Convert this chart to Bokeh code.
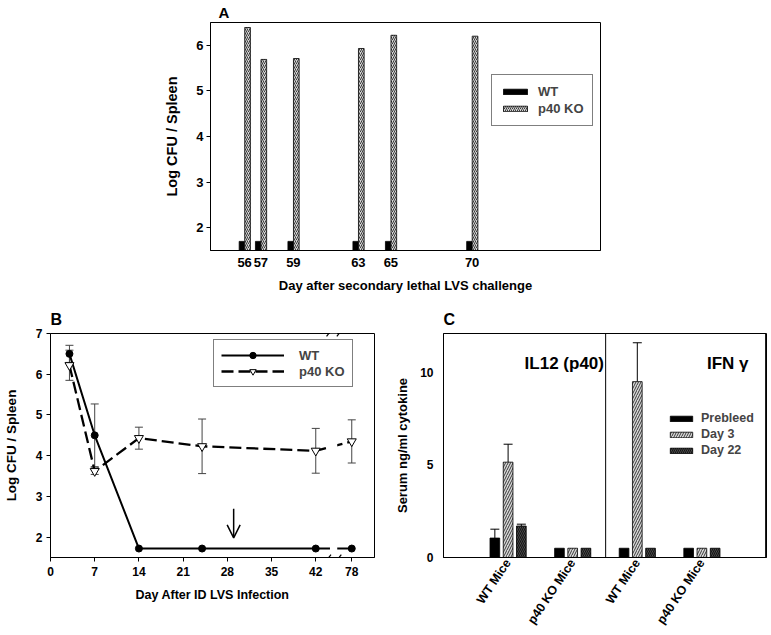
import math
from bokeh.plotting import figure
from bokeh.layouts import column, row
from bokeh.models import (ColumnDataSource, FixedTicker, Legend, LegendItem, Label,
                          Arrow, OpenHead, Whisker, TeeHead, Span)
from bokeh.transform import dodge
from bokeh.embed import file_html
from bokeh.resources import INLINE

FONT = "Liberation Sans"

# ---------------- Panel A data ----------------
a_days = [56, 57, 59, 63, 65, 70]
a_wt = [1.7, 1.7, 1.7, 1.7, 1.7, 1.7]
a_p40 = [6.39, 5.69, 5.71, 5.93, 6.22, 6.20]
a_yticks = [2, 3, 4, 5, 6]

# ---------------- Panel B data ----------------
b_days = [3, 7, 14, 24, 42, 78]
b_wt = [6.5, 4.5, 1.72, 1.72, 1.72, 1.72]
b_wt_err = [0.21, 0.77, 0, 0, 0, 0]
b_p40 = [6.22, 3.62, 4.43, 4.23, 4.12, 4.35]
b_p40_err = [0.37, 0.08, 0.27, 0.67, 0.55, 0.53]
b_xticks = [0, 7, 14, 21, 28, 35, 42, 78]
b_yticks = [2, 3, 4, 5, 6, 7]
b_arrow_day = 29

# ---------------- Panel C data ----------------
c_groups = ["WT Mice", "p40 KO Mice", "WT Mice", "p40 KO Mice"]
c_panels = ["IL12 (p40)", "IFN γ"]
c_series = ["Prebleed", "Day 3", "Day 22"]
c_prebleed = [1.05, 0.5, 0.5, 0.5]
c_day3 = [5.15, 0.5, 9.5, 0.5]
c_day22 = [1.7, 0.5, 0.5, 0.5]
c_prebleed_err = [0.48, 0, 0, 0]
c_day3_err = [0.97, 0, 2.1, 0]
c_day22_err = [0.1, 0, 0, 0]
c_yticks = [0, 5, 10]


def base_fig(title, title_size, title_offset, title_standoff, **kw):
    p = figure(output_backend="svg", toolbar_location=None,
               background_fill_color="white", border_fill_color="white",
               outline_line_color="black", outline_line_width=1, **kw)
    p.title.text = title
    p.title.text_font = FONT
    p.title.text_font_style = "bold"
    p.title.text_font_size = title_size
    p.title.text_color = "black"
    p.title.align = "left"
    p.title.offset = title_offset
    p.title.standoff = title_standoff
    p.grid.visible = False
    for ax in p.axis:
        ax.major_label_text_font = FONT
        ax.major_label_text_font_style = "bold"
        ax.major_label_text_color = "black"
        ax.axis_label_text_font = FONT
        ax.axis_label_text_font_style = "bold"
        ax.axis_label_text_color = "black"
        ax.axis_line_color = "black"
        ax.major_tick_line_color = "black"
        ax.minor_tick_line_color = None
        ax.major_tick_in = 0
    return p


# ================= Panel A =================
pA = base_fig("A", "15px", 8, 3,
              frame_width=390, frame_height=228, x_range=(53.9, 77.9), y_range=(1.5, 6.5),
              min_border_left=210, min_border_right=160, min_border_top=22, min_border_bottom=50)
srcA = ColumnDataSource(dict(day=a_days, wt=a_wt, p40=a_p40))
rA_wt = pA.vbar(x=dodge("day", -0.17, range=pA.x_range), top="wt", bottom=1.5, width=0.33,
                fill_color="black", line_color="black", line_width=0.8, source=srcA)
rA_p40 = pA.vbar(x=dodge("day", 0.18, range=pA.x_range), top="p40", bottom=1.5, width=0.35,
                 fill_color="#d4d4d4", hatch_pattern="/", hatch_color="#3a3a3a",
                 hatch_scale=4, hatch_weight=1, line_color="black", line_width=0.8, source=srcA)
pA.xaxis.ticker = FixedTicker(ticks=a_days)
pA.yaxis.ticker = FixedTicker(ticks=a_yticks)
pA.xaxis.major_tick_out = 0
pA.xaxis.major_label_standoff = 7
pA.xaxis.major_label_text_font_size = "13px"
pA.yaxis.major_label_text_font_size = "13px"
pA.yaxis.major_tick_out = 4
pA.yaxis.major_label_standoff = 3
pA.xaxis.axis_label = "Day after secondary lethal LVS challenge"
pA.xaxis.axis_label_text_font_size = "13px"
pA.xaxis.axis_label_standoff = 8
pA.yaxis.axis_label = "Log CFU / Spleen"
pA.yaxis.axis_label_text_font_size = "14.5px"
pA.yaxis.axis_label_standoff = 13
legA = Legend(items=[LegendItem(label="WT", renderers=[rA_wt]),
                     LegendItem(label="p40 KO", renderers=[rA_p40])],
              location=(281, 124), border_line_color="black", border_line_width=1,
              background_fill_color="white", padding=8, spacing=0, margin=0,
              label_height=17, glyph_height=7, glyph_width=30, label_standoff=8,
              label_text_font=FONT, label_text_font_style="bold", label_text_font_size="13px")
pA.add_layout(legA)

# ================= Panel B =================
B_BREAK_POS = 47.7
b_pos = [d if d <= 42 else B_BREAK_POS for d in b_days]
srcB = ColumnDataSource(dict(x=b_pos, wt=b_wt, p40=b_p40))
pB = base_fig("B", "16px", 0, 11,
              width=392, height=333, x_range=(0, 51.3), y_range=(1.5, 7.0),
              min_border_left=50, min_border_right=18, min_border_top=33, min_border_bottom=71)

wt_err_rows = [i for i, e in enumerate(b_wt_err) if e > 0]
srcBwe = ColumnDataSource(dict(x=[b_pos[i] for i in wt_err_rows],
                               lo=[b_wt[i] - b_wt_err[i] for i in wt_err_rows],
                               hi=[b_wt[i] + b_wt_err[i] for i in wt_err_rows]))
srcBpe = ColumnDataSource(dict(x=b_pos,
                               lo=[v - e for v, e in zip(b_p40, b_p40_err)],
                               hi=[v + e for v, e in zip(b_p40, b_p40_err)]))
for s in (srcBwe, srcBpe):
    pB.add_layout(Whisker(source=s, base="x", lower="lo", upper="hi", line_color="#444444",
                          line_width=1, level="underlay",
                          upper_head=TeeHead(size=8, line_color="#444444", line_width=1),
                          lower_head=TeeHead(size=8, line_color="#444444", line_width=1)))

lB_wt = pB.line("x", "wt", source=srcB, line_color="black", line_width=2)
lB_p40 = pB.line("x", "p40", source=srcB, line_color="black", line_width=2.3, line_dash="12 5")
# axis break gap
pB.quad(left=44.25, right=45.4, bottom=1.5, top=7.0, fill_color="white", line_color=None)
sB_wt = pB.scatter("x", "wt", source=srcB, marker="circle", size=7, fill_color="black",
                   line_color="black")
sB_p40 = pB.scatter("x", "p40", source=srcB, marker="inverted_triangle", size=9,
                    fill_color="white", line_color="black", line_width=1)

pB.xaxis.ticker = FixedTicker(ticks=b_xticks[:-1] + [B_BREAK_POS])
pB.xaxis.major_label_overrides = {B_BREAK_POS: str(b_xticks[-1])}
pB.yaxis.ticker = FixedTicker(ticks=b_yticks)
pB.xaxis.major_tick_out = 4
pB.yaxis.major_tick_out = 4
pB.xaxis.major_label_standoff = 5
pB.yaxis.major_label_standoff = 4
pB.xaxis.major_label_text_font_size = "12px"
pB.yaxis.major_label_text_font_size = "12px"
pB.xaxis.axis_label = "Day After ID LVS Infection"
pB.xaxis.axis_label_text_font_size = "12.5px"
pB.xaxis.axis_label_standoff = 9
pB.yaxis.axis_label = "Log CFU / Spleen"
pB.yaxis.axis_label_text_font_size = "13.5px"
pB.yaxis.axis_label_standoff = 14

legB = Legend(items=[LegendItem(label="WT", renderers=[lB_wt, sB_wt]),
                     LegendItem(label="p40 KO", renderers=[lB_p40, sB_p40])],
              location=(163, 170), border_line_color="black", border_line_width=1,
              background_fill_color="white", padding=7, spacing=0, margin=0,
              label_height=16, glyph_height=16, glyph_width=63, label_standoff=15,
              label_text_font=FONT, label_text_font_style="bold", label_text_font_size="13px")
pB.add_layout(legB)

pB.add_layout(Arrow(x_start=b_arrow_day, y_start=2.7, x_end=b_arrow_day, y_end=1.98,
                    line_color="black", line_width=1.5,
                    end=OpenHead(size=13, line_color="black", line_width=1.5)))
for cx in (44.06, 45.69):
    for cy in (1.5, 7.0):
        pB.add_layout(Arrow(x_start=cx - 0.35, y_start=cy - 0.07, x_end=cx + 0.35,
                            y_end=cy + 0.07, line_color="black", line_width=1.2, end=None))

# ================= Panel C =================
c_x = list(range(1, len(c_groups) + 1))
OFF = 0.205
W = 0.15
C_XMAX = 5.0
srcC = ColumnDataSource(dict(x=c_x, pre=c_prebleed, d3=c_day3, d22=c_day22))
pC = base_fig("C", "16px", 0, 11,
              width=379, height=333, x_range=(0, C_XMAX), y_range=(0, 12.1),
              min_border_left=51, min_border_right=5, min_border_top=33, min_border_bottom=71)
rC_pre = pC.vbar(x=dodge("x", -OFF, range=pC.x_range), top="pre", bottom=0, width=W,
                 fill_color="black", line_color="black", line_width=0.8, source=srcC)
rC_d3 = pC.vbar(x=dodge("x", 0, range=pC.x_range), top="d3", bottom=0, width=W,
                fill_color="#d8d8d8", hatch_pattern="/", hatch_color="#3a3a3a", hatch_scale=5,
                hatch_weight=1, line_color="black", line_width=0.8, source=srcC)
rC_d22 = pC.vbar(x=dodge("x", OFF, range=pC.x_range), top="d22", bottom=0, width=W,
                 fill_color="#5a5a5a", hatch_pattern="\\", hatch_color="#151515", hatch_scale=4,
                 hatch_weight=1.2, line_color="black", line_width=0.8, source=srcC)

ex, elo, ehi = [], [], []
for off, vals, errs in ((-OFF, c_prebleed, c_prebleed_err), (0, c_day3, c_day3_err),
                        (OFF, c_day22, c_day22_err)):
    for xi, v, e in zip(c_x, vals, errs):
        if e > 0:
            ex.append(xi + off)
            elo.append(v)
            ehi.append(v + e)
pC.add_layout(Whisker(source=ColumnDataSource(dict(x=ex, lo=elo, hi=ehi)), base="x",
                      lower="lo", upper="hi", line_color="black", line_width=1,
                      upper_head=TeeHead(size=9, line_color="black", line_width=1),
                      lower_head=None))

# panel divider and right frame edge
pC.add_layout(Span(location=2.51, dimension="height", line_color="black", line_width=1))
pC.add_layout(Span(location=C_XMAX - 0.012, dimension="height", line_color="black",
                   line_width=1.2))

for txt, tx in zip(c_panels, (1.87, 4.4)):
    pC.add_layout(Label(x=tx, y=10.46, text=txt, text_font=FONT, text_font_style="bold",
                        text_font_size="17px", text_align="center", text_baseline="middle",
                        text_color="black"))

legC = Legend(items=[LegendItem(label=c_series[0], renderers=[rC_pre]),
                     LegendItem(label=c_series[1], renderers=[rC_d3]),
                     LegendItem(label=c_series[2], renderers=[rC_d22])],
              location=(224, 99), border_line_color=None, background_fill_alpha=0,
              padding=0, spacing=0, margin=0, label_height=16, glyph_height=7,
              glyph_width=28, label_standoff=6,
              label_text_font=FONT, label_text_font_style="bold", label_text_font_size="12.5px")
pC.add_layout(legC)

pC.xaxis.ticker = FixedTicker(ticks=c_x)
pC.xaxis.major_label_overrides = {xi: g for xi, g in zip(c_x, c_groups)}
pC.xaxis.major_label_orientation = math.radians(56)
pC.xaxis.major_tick_out = 0
pC.xaxis.major_label_standoff = 3
pC.xaxis.major_label_text_font_size = "12.5px"
pC.yaxis.ticker = FixedTicker(ticks=c_yticks)
pC.yaxis.major_tick_out = 0
pC.yaxis.major_label_standoff = 10
pC.yaxis.major_label_text_font_size = "12px"
pC.yaxis.axis_label = "Serum ng/ml cytokine"
pC.yaxis.axis_label_text_font_size = "13px"
pC.yaxis.axis_label_standoff = 7

layout = column(pA, row(pB, pC, spacing=0), spacing=0)
open("out.html", "w").write(file_html(layout, INLINE))
